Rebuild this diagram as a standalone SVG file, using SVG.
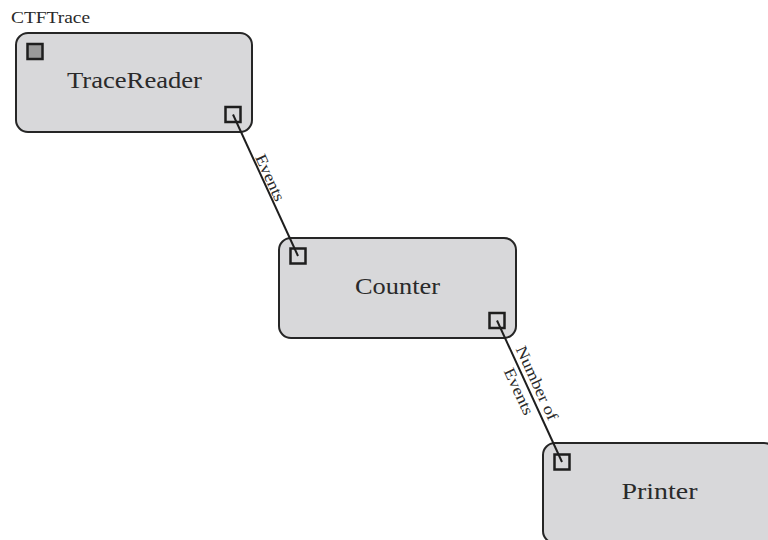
<svg xmlns="http://www.w3.org/2000/svg" width="768" height="540" viewBox="0 0 768 540">
<style>
.box{fill:#d8d8da;stroke:#262626;stroke-width:2}
.port{fill:#d8d8da;stroke:#1e1e1e;stroke-width:2.5}
.port.src{fill:#9a9a9a}
.lbl{font-family:"Liberation Serif",serif;font-size:24px;fill:#2a2a2a;text-anchor:middle}
.small{font-family:"Liberation Serif",serif;font-size:16px;fill:#2a2a2a}
.edge{stroke:#1e1e1e;stroke-width:2;fill:none}
</style>
<rect width="768" height="540" fill="#ffffff"/>
<text class="small" x="11" y="23" textLength="79" lengthAdjust="spacingAndGlyphs">CTFTrace</text>
<g id="TraceReader">
<rect class="box" x="16" y="33" width="236" height="99" rx="12"/>
<text class="lbl" x="134.5" y="88" textLength="135" lengthAdjust="spacingAndGlyphs">TraceReader</text>
<rect class="port src" x="27.5" y="44" width="15" height="15"/>
<rect class="port" x="225.5" y="107" width="15" height="15"/>
</g>
<g id="Counter">
<rect class="box" x="279" y="238" width="237" height="100" rx="12"/>
<text class="lbl" x="397.5" y="294" textLength="85" lengthAdjust="spacingAndGlyphs">Counter</text>
<rect class="port" x="290.5" y="248.5" width="15" height="15"/>
<rect class="port" x="489.5" y="313" width="15" height="15"/>
</g>
<g id="Printer">
<rect class="box" x="543" y="443" width="233" height="100" rx="12"/>
<text class="lbl" x="659.5" y="499" textLength="76" lengthAdjust="spacingAndGlyphs">Printer</text>
<rect class="port" x="554.5" y="454.5" width="15" height="15"/>
</g>
<g id="connectors">
<line class="edge" x1="233" y1="114.5" x2="298" y2="256"/>
<line class="edge" x1="497" y1="320.5" x2="562" y2="462"/>
<g transform="translate(263.5,180.7) rotate(65.4)">
<text class="small" x="0" y="-2" text-anchor="middle" textLength="50" lengthAdjust="spacingAndGlyphs">Events</text>
</g>
<g transform="translate(527.6,387.3) rotate(65.25)">
<text class="small" x="0" y="-5" text-anchor="middle" textLength="80" lengthAdjust="spacingAndGlyphs">Number of</text>
<text class="small" x="0" y="15" text-anchor="middle" textLength="50" lengthAdjust="spacingAndGlyphs">Events</text>
</g>
</g>
</svg>
